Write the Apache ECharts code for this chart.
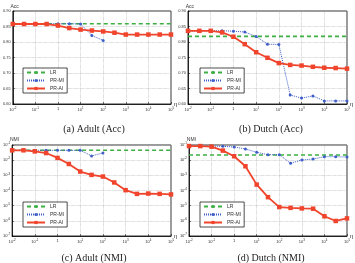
<!DOCTYPE html>
<html>
<head>
<meta charset="utf-8">
<script src="https://cdn.jsdelivr.net/npm/echarts@6/dist/echarts.min.js"></script>
<style>
  html, body { margin: 0; padding: 0; background: #fff; }
  #chart { width: 355px; height: 263px; }
</style>
</head>
<body>
<div id="chart"></div>
<script>
// eta values (half decades from 1e-2 to 1e5)
const etas = [0.01, 0.0316, 0.1, 0.316, 1, 3.16, 10, 31.6, 100, 316, 1000, 3162, 10000, 31623, 100000];

// (a) Adult Acc
const lrAdultAcc = 0.859;
const miAdultAcc = [0.859, 0.859, 0.859, 0.859, 0.859, 0.859, 0.858, 0.821, 0.805];
const aiAdultAcc = [0.858, 0.858, 0.858, 0.858, 0.853, 0.845, 0.840, 0.837, 0.834, 0.830, 0.824, 0.824, 0.824, 0.824, 0.824];

// (b) Dutch Acc
const lrDutchAcc = 0.818;
const miDutchAcc = [0.836, 0.836, 0.836, 0.836, 0.835, 0.832, 0.818, 0.793, 0.792, 0.629, 0.619, 0.626, 0.610, 0.610, 0.610];
const aiDutchAcc = [0.836, 0.836, 0.836, 0.831, 0.817, 0.793, 0.767, 0.749, 0.732, 0.726, 0.724, 0.720, 0.717, 0.716, 0.714];

// (c) Adult NMI
const lrAdultNmi = 0.0447;
const miAdultNmi = [0.0447, 0.0447, 0.0447, 0.0447, 0.0447, 0.0447, 0.0447, 0.0191, 0.0295];
const aiAdultNmi = [0.0447, 0.0447, 0.0380, 0.0295, 0.0141, 0.00562, 0.00178, 0.00107, 0.000832, 0.000339, 0.000105, 0.000060, 0.000063, 0.000060, 0.000055];

// (d) Dutch NMI
const lrDutchNmi = 0.0219;
const miDutchNmi = [0.0851, 0.0851, 0.0851, 0.0813, 0.0741, 0.0550, 0.0331, 0.0229, 0.0229, 0.00631, 0.0102, 0.0120, 0.0170, 0.0170, 0.0162];
const aiDutchNmi = [0.0851, 0.0851, 0.0776, 0.0427, 0.0182, 0.00398, 0.000245, 0.0000363, 0.0000081, 0.0000072, 0.0000066, 0.0000063, 0.0000020, 0.00000098, 0.00000145];

const captions = ['(a) Adult (Acc)', '(b) Dutch (Acc)', '(c) Adult (NMI)', '(d) Dutch (NMI)'];
const seriesNames = ['LR', 'PR-MI', 'PR-AI'];

const GREEN = '#3cb043';
const BLUE = '#3f5fc8';
const RED = '#f0442c';

const grids = [
  { left: 11, top: 11, width: 160, height: 93 },
  { left: 188, top: 11, width: 159, height: 93 },
  { left: 11, top: 145, width: 160, height: 91 },
  { left: 189, top: 145, width: 158, height: 91 }
];

function powLabel(v) {
  const e = Math.round(Math.log10(v));
  if (e === 0) return '{b|1}';
  return '{b|10}{s|' + e + '}';
}

const tickRich = {
  b: { fontSize: 4, color: '#333' },
  s: { fontSize: 3, color: '#333', padding: [0, 0, 3, 0] }
};

function xAxis(i) {
  return {
    type: 'log', logBase: 10, gridIndex: i,
    min: 0.01, max: 100000, interval: 1,
    name: 'η', nameLocation: 'end', nameGap: 3,
    nameTextStyle: { fontSize: 6, color: '#333', padding: [8, 0, 0, 0] },
    axisLine: { lineStyle: { color: '#000', width: 0.8 } },
    axisTick: { show: true, inside: true, length: 2, lineStyle: { color: '#000', width: 0.5 } },
    axisLabel: { formatter: powLabel, rich: tickRich, fontSize: 4, margin: 3, showMinLabel: true, showMaxLabel: true },
    splitLine: { show: true, lineStyle: { color: '#aaa', type: 'dotted', width: 0.6 } }
  };
}

function yAxisAcc(i) {
  return {
    type: 'value', gridIndex: i, min: 0.6, max: 0.9, interval: 0.05,
    name: 'Acc', nameLocation: 'end', nameGap: 2,
    nameTextStyle: { fontSize: 5, color: '#333', align: 'right', padding: [0, -6, 0, 0] },
    axisLine: { show: true, lineStyle: { color: '#000', width: 0.8 } },
    axisTick: { show: true, inside: true, length: 2, lineStyle: { color: '#000', width: 0.5 } },
    axisLabel: { fontSize: 4, color: '#333', margin: 2, formatter: v => v.toFixed(2) },
    splitLine: { show: true, lineStyle: { color: '#aaa', type: 'dotted', width: 0.6 } }
  };
}

function yAxisNmi(i) {
  return {
    type: 'log', logBase: 10, gridIndex: i, min: 1e-7, max: 1e-1, interval: 1,
    name: 'NMI', nameLocation: 'end', nameGap: 2,
    nameTextStyle: { fontSize: 5, color: '#333', align: 'right', padding: [0, -7, 0, 0] },
    axisLine: { show: true, lineStyle: { color: '#000', width: 0.8 } },
    axisTick: { show: true, inside: true, length: 2, lineStyle: { color: '#000', width: 0.5 } },
    axisLabel: { formatter: powLabel, rich: tickRich, fontSize: 4, margin: 2 },
    splitLine: { show: true, lineStyle: { color: '#aaa', type: 'dotted', width: 0.6 } }
  };
}

function pairs(vals) {
  return vals.map((v, k) => [etas[k], v]);
}

function panelSeries(i, lr, mi, ai) {
  return [
    {
      name: 'LR', type: 'line', xAxisIndex: i, yAxisIndex: i,
      data: etas.map(e => [e, lr]), showSymbol: false, symbol: 'none',
      lineStyle: { color: GREEN, width: 1.6, type: [4, 3] }, itemStyle: { color: GREEN },
      z: 2
    },
    {
      name: 'PR-MI', type: 'line', xAxisIndex: i, yAxisIndex: i,
      data: pairs(mi), symbol: 'circle', symbolSize: 3,
      lineStyle: { color: BLUE, width: 1, type: [1, 1] }, itemStyle: { color: BLUE },
      z: 3
    },
    {
      name: 'PR-AI', type: 'line', xAxisIndex: i, yAxisIndex: i,
      data: pairs(ai), symbol: 'rect', symbolSize: 4.5,
      lineStyle: { color: RED, width: 1.8 }, itemStyle: { color: RED },
      z: 4
    }
  ];
}

const legendPos = [
  { left: 23, top: 68 },
  { left: 200, top: 68 },
  { left: 23, top: 202 },
  { left: 200, top: 202 }
];

const chart = echarts.init(document.getElementById('chart'), null, { renderer: 'canvas' });

const option = {
  animation: false,
  backgroundColor: '#fff',
  textStyle: { fontFamily: 'Liberation Sans, Arial, sans-serif' },
  grid: grids.map(g => Object.assign({ show: true, borderColor: '#000', borderWidth: 0.8, backgroundColor: 'transparent' }, g)),
  xAxis: [0, 1, 2, 3].map(xAxis),
  yAxis: [yAxisAcc(0), yAxisAcc(1), yAxisNmi(2), yAxisNmi(3)],
  legend: legendPos.map(p => ({
    data: seriesNames, orient: 'vertical', left: p.left, top: p.top,
    itemWidth: 18, itemHeight: 4, itemGap: 3,
    padding: [2, 3, 2, 3],
    backgroundColor: '#fff', borderColor: '#000', borderWidth: 0.7,
    textStyle: { fontSize: 5, color: '#333' }
  })),
  title: captions.map((c, i) => ({
    text: c, left: (i % 2 === 0 ? 89 : 266), top: (i < 2 ? 119 : 248), textAlign: 'center',
    textStyle: { fontSize: 10, fontWeight: 'normal', color: '#222', fontFamily: 'Liberation Serif, Times New Roman, serif' }
  })),
  series: [].concat(
    panelSeries(0, lrAdultAcc, miAdultAcc, aiAdultAcc),
    panelSeries(1, lrDutchAcc, miDutchAcc, aiDutchAcc),
    panelSeries(2, lrAdultNmi, miAdultNmi, aiAdultNmi),
    panelSeries(3, lrDutchNmi, miDutchNmi, aiDutchNmi)
  )
};

chart.setOption(option);
</script>
</body>
</html>
